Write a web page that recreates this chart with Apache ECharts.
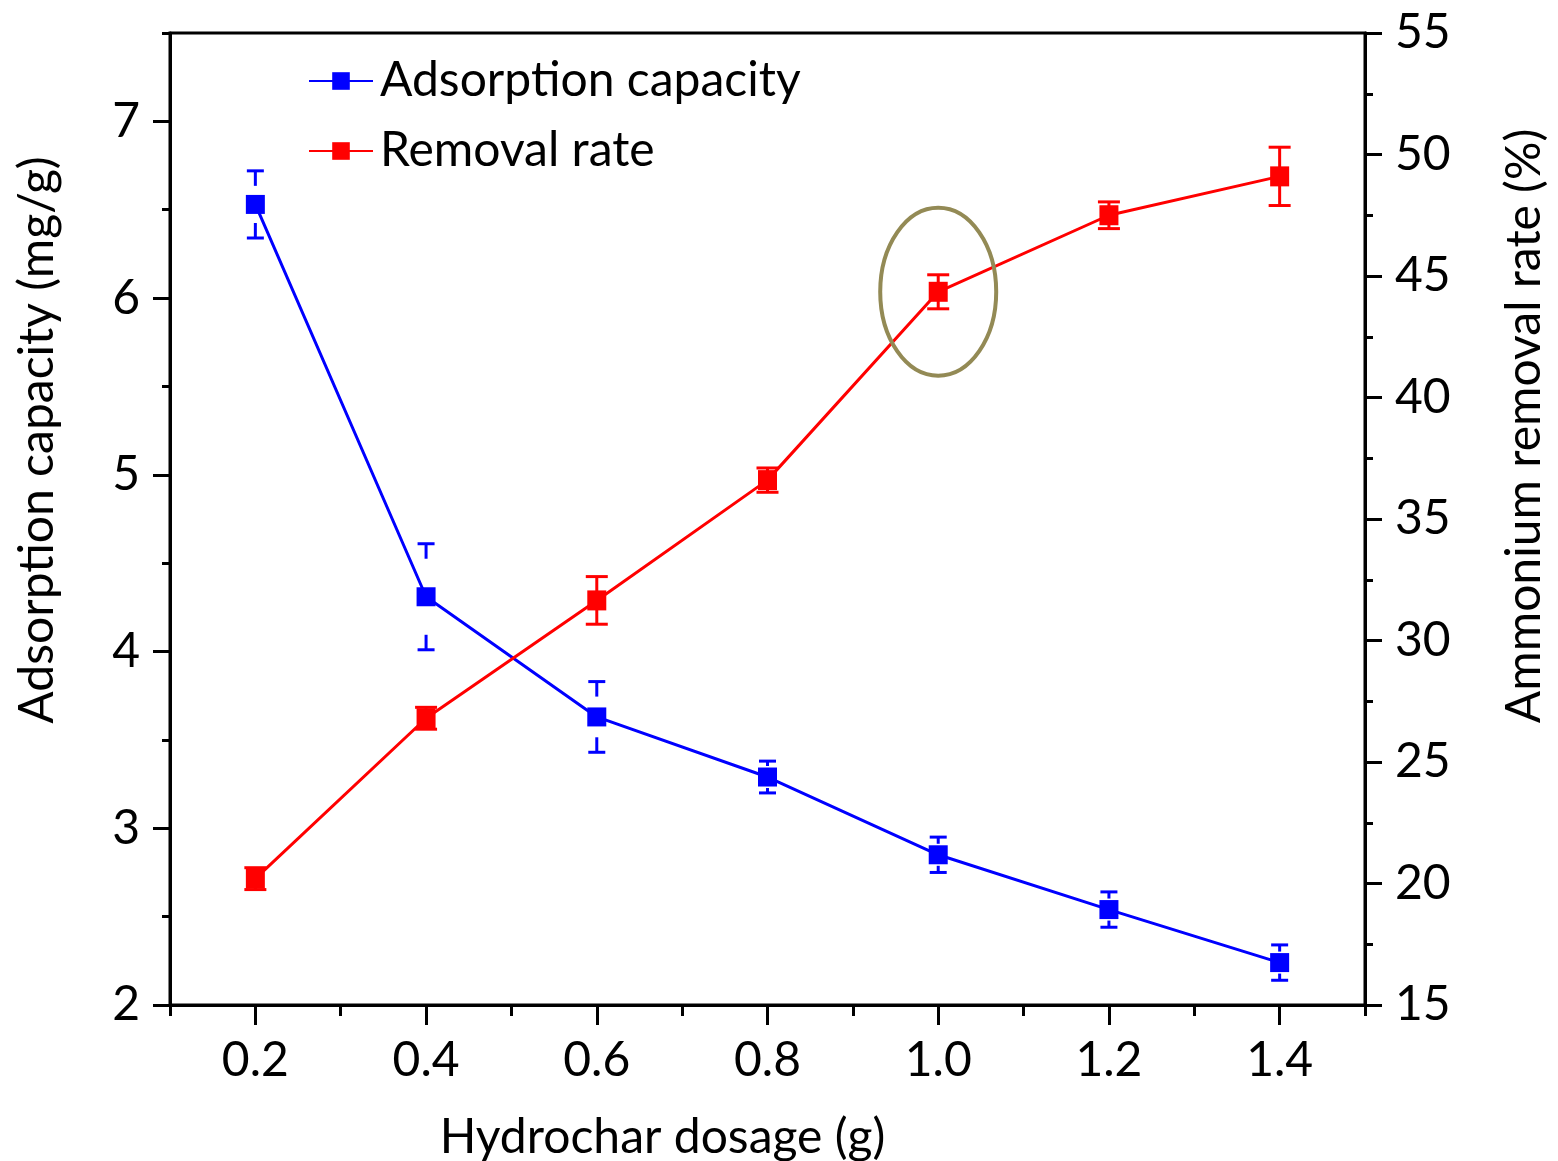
<!DOCTYPE html>
<html>
<head>
<meta charset="utf-8">
<title>Hydrochar dosage</title>
<script src="https://cdn.jsdelivr.net/npm/echarts@6/dist/echarts.min.js"></script>
<style>
  html, body { margin: 0; padding: 0; background: #fff; }
  #chart { width: 1558px; height: 1161px; }
</style>
</head>
<body>
<div id="chart"></div>
<script>
// hydrochar dosage (g)
var dosage = [0.2, 0.4, 0.6, 0.8, 1.0, 1.2, 1.4];
// adsorption capacity (mg/g) and its error
var capacity = [6.53, 4.31, 3.63, 3.29, 2.85, 2.54, 2.24];
var capacityErr = [0.19, 0.30, 0.20, 0.09, 0.10, 0.10, 0.10];
// ammonium removal rate (%) and its error
var removal = [20.2, 26.8, 31.65, 36.6, 44.35, 47.5, 49.1];
var removalErr = [0.45, 0.45, 0.98, 0.5, 0.7, 0.55, 1.2];
// the point circled in the figure
var circledIndex = 4;

// ticks
var xMajor = [0.2, 0.4, 0.6, 0.8, 1.0, 1.2, 1.4];
var xMinor = [0.1, 0.3, 0.5, 0.7, 0.9, 1.1, 1.3, 1.5];
var yLeftMajor = [2, 3, 4, 5, 6, 7];
var yLeftMinor = [2.5, 3.5, 4.5, 5.5, 6.5, 7.5];

var FONT = 'Lato';
var BLUE = '#0000ff';
var RED = '#ff0000';

var chart = echarts.init(document.getElementById('chart'));

function errData(vals, errs){
	return dosage.map(function(x, i){
		return [x, vals[i] - errs[i], vals[i] + errs[i], vals[i]];
	});
}

// blue bars: caps with short stems that stop before the marker
// red bars: full I shape
function errorBar(color, capW, shortStem){
	return function(params, api){
		var x = api.value(0);
		var lo = api.coord([x, api.value(1)]);
		var hi = api.coord([x, api.value(2)]);
		var mid = api.coord([x, api.value(3)]);
		var st = {stroke: color, lineWidth: 3};
		var kids = [
			{type: 'line', shape: {x1: hi[0] - capW / 2, y1: hi[1], x2: hi[0] + capW / 2, y2: hi[1]}, style: st},
			{type: 'line', shape: {x1: lo[0] - capW / 2, y1: lo[1], x2: lo[0] + capW / 2, y2: lo[1]}, style: st}
		];
		if(shortStem){
			var upEnd = Math.min(hi[1] + 15, mid[1] - 11);
			var dnEnd = Math.max(lo[1] - 15, mid[1] + 11);
			if(upEnd > hi[1])
				kids.push({type: 'line', shape: {x1: hi[0], y1: hi[1], x2: hi[0], y2: upEnd}, style: st});
			if(dnEnd < lo[1])
				kids.push({type: 'line', shape: {x1: lo[0], y1: dnEnd, x2: lo[0], y2: lo[1]}, style: st});
		} else {
			kids.push({type: 'line', shape: {x1: hi[0], y1: hi[1], x2: lo[0], y2: lo[1]}, style: st});
		}
		return {type: 'group', children: kids};
	}
}

var axisLine = {show: true, lineStyle: {color: '#000', width: 3}};
var labelStyle = {color: '#000', fontFamily: FONT, fontSize: 48};

var option = {
	animation: false,
	backgroundColor: '#fff',
	grid: {
		left: 170, right: 193, top: 33, bottom: 156,
		outerBoundsMode: 'none', containLabel: false,
		show: true, borderColor: '#000', borderWidth: 3, backgroundColor: 'transparent'
	},
	legend: {
		orient: 'vertical',
		left: 303, top: 52,
		itemWidth: 64, itemHeight: 22, itemGap: 22,
		data: ['Adsorption capacity', 'Removal rate'],
		textStyle: {color: '#000', fontFamily: FONT, fontSize: 48, lineHeight: 48, padding: [0, 0, 0, 2]}
	},
	xAxis: [{
		type: 'value', min: 0.1, max: 1.5, position: 'bottom',
		name: 'Hydrochar dosage (g)', nameLocation: 'middle', nameGap: 109,
		nameTextStyle: {color: '#000', fontFamily: FONT, fontSize: 48, padding: [0, 210, 0, 0]},
		axisLine: axisLine,
		axisTick: {show: true, length: 20, lineStyle: {width: 3, color: '#000'}, customValues: xMajor},
		axisLabel: Object.assign({margin: 32, customValues: xMajor, formatter: function(v){ return v.toFixed(1); }}, labelStyle),
		splitLine: {show: false}
	}, {
		type: 'value', min: 0.1, max: 1.5, position: 'bottom',
		axisLine: {show: false},
		axisTick: {show: true, length: 11, lineStyle: {width: 3, color: '#000'}, customValues: xMinor},
		axisLabel: {show: false},
		splitLine: {show: false}
	}],
	yAxis: [{
		type: 'value', min: 2, max: 7.5, position: 'left',
		name: 'Adsorption capacity (mg/g)', nameLocation: 'middle', nameGap: 108,
		nameTextStyle: {color: '#000', fontFamily: FONT, fontSize: 48, padding: [0, 0, 0, 158]},
		axisLine: axisLine,
		axisTick: {show: true, length: 17, lineStyle: {width: 3, color: '#000'}, customValues: yLeftMajor},
		axisLabel: Object.assign({margin: 30, customValues: yLeftMajor}, labelStyle),
		splitLine: {show: false}
	}, {
		type: 'value', min: 15, max: 55, interval: 5, position: 'right',
		name: 'Ammonium removal rate (%)', nameLocation: 'middle', nameGap: 136, nameRotate: 90,
		nameTextStyle: {color: '#000', fontFamily: FONT, fontSize: 48, padding: [0, 0, 0, 186]},
		axisLine: axisLine,
		axisTick: {show: true, length: 17, lineStyle: {width: 3, color: '#000'}},
		minorTick: {show: true, splitNumber: 2, length: 8, lineStyle: {width: 3, color: '#000'}},
		axisLabel: Object.assign({margin: 30}, labelStyle),
		splitLine: {show: false}
	}, {
		type: 'value', min: 2, max: 7.5, position: 'left',
		axisLine: {show: false},
		axisTick: {show: true, length: 8, lineStyle: {width: 3, color: '#000'}, customValues: yLeftMinor},
		axisLabel: {show: false},
		splitLine: {show: false}
	}],
	series: [{
		name: 'Adsorption capacity',
		type: 'line', yAxisIndex: 0,
		data: dosage.map(function(x, i){ return [x, capacity[i]]; }),
		symbol: 'rect', symbolSize: 19,
		itemStyle: {color: BLUE},
		lineStyle: {color: BLUE, width: 3},
		z: 3
	}, {
		name: 'Removal rate',
		type: 'line', yAxisIndex: 1,
		data: dosage.map(function(x, i){ return [x, removal[i]]; }),
		symbol: 'rect', symbolSize: [19, 20],
		itemStyle: {color: RED},
		lineStyle: {color: RED, width: 3},
		z: 3
	}, {
		type: 'custom', yAxisIndex: 0,
		data: errData(capacity, capacityErr),
		renderItem: errorBar(BLUE, 17, true),
		z: 2
	}, {
		type: 'custom', yAxisIndex: 1,
		data: errData(removal, removalErr),
		renderItem: errorBar(RED, 22, false),
		z: 2
	}, {
		type: 'custom', yAxisIndex: 1,
		data: [[dosage[circledIndex], removal[circledIndex]]],
		renderItem: function(params, api){
			var c = api.coord([api.value(0), api.value(1)]);
			return {
				type: 'ellipse',
				shape: {cx: c[0], cy: c[1], rx: 58, ry: 84},
				style: {fill: 'none', stroke: '#938a55', lineWidth: 4}
			};
		},
		z: 4
	}]
};

chart.setOption(option);
</script>
</body>
</html>
